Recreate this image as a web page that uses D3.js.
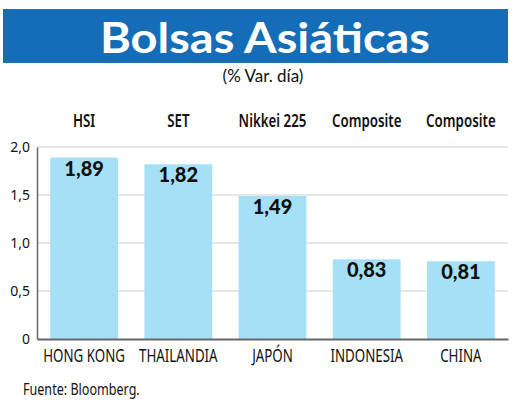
<!DOCTYPE html>
<html>
<head>
<meta charset="utf-8">
<script src="https://cdn.jsdelivr.net/npm/d3@7"></script>
<style>
  body { margin: 0; background: #fff; }
  text { font-family: "Noto Sans", "Open Sans", sans-serif; }
</style>
</head>
<body>
<div id="chart"></div>
<script>
// chart data
var countries = ["HONG KONG", "THAILANDIA", "JAPÓN", "INDONESIA", "CHINA"];
var indices = ["HSI", "SET", "Nikkei 225", "Composite", "Composite"];
var values = [1.89, 1.82, 1.49, 0.83, 0.81];
var yTicks = [0, 0.5, 1.0, 1.5, 2.0];
var yTickLabels = ["0", "0,5", "1,0", "1,5", "2,0"];

var svgWidth = 520;
var svgHeight = 411;
var squeeze = 0.74; // horizontal squeeze to fake a condensed face

var svg = d3.select("#chart")
  .append("svg")
  .attr("width", svgWidth)
  .attr("height", svgHeight);

// helper: condensed text placed at x,y
function narrowText(parent, x, y, anchor) {
  return parent.append("g")
    .attr("transform", `translate(${x},${y}) scale(${squeeze},1)`)
    .append("text")
    .attr("text-anchor", anchor)
    .attr("fill", "#111");
}

// title banner
svg.append("rect")
  .attr("x", 3)
  .attr("y", 9)
  .attr("width", 505)
  .attr("height", 54)
  .attr("fill", "#166db7");

svg.append("text")
  .attr("x", 265)
  .attr("y", 53)
  .attr("text-anchor", "middle")
  .attr("fill", "#fff")
  .style("font-family", "Lato, 'Open Sans', sans-serif")
  .style("font-weight", "bold")
  .style("font-size", "42px")
  .attr("textLength", 330)
  .attr("lengthAdjust", "spacingAndGlyphs")
  .text("Bolsas Asiáticas");

svg.append("text")
  .attr("x", 263)
  .attr("y", 82)
  .attr("text-anchor", "middle")
  .attr("fill", "#111")
  .style("font-family", "Lato, 'Open Sans', sans-serif")
  .style("font-size", "17px")
  .text("(% Var. día)");

// scales
var x = d3.scaleBand()
  .domain(countries)
  .range([37, 508])
  .paddingInner(0.28)
  .paddingOuter(0.14);

var y = d3.scaleLinear()
  .domain([0, 2])
  .range([339, 147]);

// gridlines
svg.append("g")
  .selectAll("line")
  .data(yTicks.slice(1))
  .enter()
  .append("line")
  .attr("x1", 37)
  .attr("x2", 508)
  .attr("y1", d => y(d))
  .attr("y2", d => y(d))
  .attr("stroke", "#cfcfcf")
  .attr("stroke-width", 1);

// y axis
var leftAxis = d3.axisLeft(y)
  .tickValues(yTicks)
  .tickSize(0)
  .tickPadding(7)
  .tickFormat((d, i) => yTickLabels[i]);

var yAxis = svg.append("g")
  .attr("transform", "translate(37,0)")
  .call(leftAxis);
yAxis.select(".domain").attr("stroke", "#666").attr("stroke-width", 1.5);
yAxis.selectAll("text")
  .style("font-family", "'Noto Sans', sans-serif")
  .style("font-size", "14px")
  .attr("fill", "#111");

// bars
svg.append("g")
  .selectAll("rect")
  .data(values)
  .enter()
  .append("rect")
  .attr("x", (d, i) => x(countries[i]))
  .attr("y", d => y(d))
  .attr("width", x.bandwidth())
  .attr("height", d => y(0) - y(d))
  .attr("fill", "#a6e0f6");

// baseline
var bottomAxis = d3.axisBottom(x).tickSize(0).tickFormat("");
var xAxis = svg.append("g")
  .attr("transform", `translate(0, ${y(0)})`)
  .call(bottomAxis);
xAxis.select(".domain").attr("stroke", "#666").attr("stroke-width", 2);

// country labels under bars
countries.forEach(function(c) {
  narrowText(svg, x(c) + x.bandwidth() / 2, 362, "middle")
    .style("font-size", "18px")
    .text(c);
});

// value labels
svg.append("g")
  .selectAll("text")
  .data(values)
  .enter()
  .append("text")
  .attr("x", (d, i) => x(countries[i]) + x.bandwidth() / 2)
  .attr("y", d => y(d) + 18)
  .attr("text-anchor", "middle")
  .attr("fill", "#111")
  .style("font-family", "Lato, 'Open Sans', sans-serif")
  .style("font-weight", "900")
  .style("font-size", "20px")
  .text(d => d.toFixed(2).replace(".", ","));

// index names above bars
indices.forEach(function(name, i) {
  narrowText(svg, x(countries[i]) + x.bandwidth() / 2, 127, "middle")
    .style("font-size", "18px")
    .style("font-weight", "600")
    .text(name);
});

// source
narrowText(svg, 23, 395, "start")
  .style("font-size", "17px")
  .text("Fuente: Bloomberg.");
</script>
</body>
</html>
